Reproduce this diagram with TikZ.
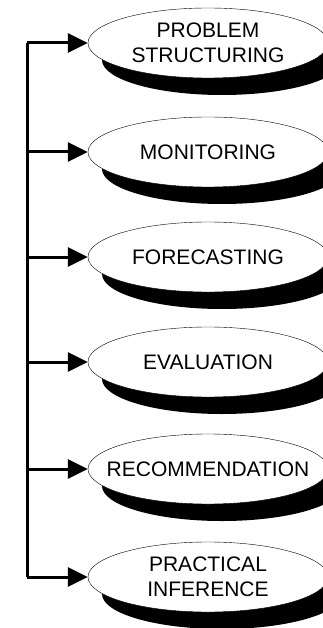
\documentclass[tikz,border=0pt]{standalone}
\usepackage{fontspec}
\setmainfont{Liberation Sans}
\usepackage{tikz}
\usetikzlibrary{arrows.meta,shapes.geometric,shadows}

\begin{document}
\begin{tikzpicture}[x=1pt,y=-1pt]
            \useasboundingbox (0,0) rectangle (323,628);

            \begin{scope}[every node/.style={ellipse,draw=black,thin,fill=white,
                          minimum width=240pt,minimum height=70pt,
                          inner xsep=-40pt,inner ysep=0pt,
                          align=center,font=\fontsize{21}{25}\selectfont,
                          general shadow={fill=black,shadow xshift=14pt,shadow yshift=-17pt}}]
                \node (P) at (208,43) {PROBLEM\\STRUCTURING};
                \node (M) at (208,152) {MONITORING};
                \node (F) at (208,257) {FORECASTING};
                \node (E) at (208,362) {EVALUATION};
                \node (R) at (208,469) {RECOMMENDATION};
                \node (I) at (208,577) {PRACTICAL\\INFERENCE};
            \end{scope}

            \coordinate (P') at (27,43);
            \coordinate (M') at (27,152);
            \coordinate (F') at (27,257);
            \coordinate (E') at (27,362);
            \coordinate (R') at (27,469);
            \coordinate (I') at (27,577);

            \begin{scope}[>={Triangle[length=20pt,width=19pt]},
                          every edge/.style={draw=black,line width=3pt}]
                \draw [line width=3pt] (P') -- (I');
                \path [->] (P') edge (P.west);
                \path [->] (M') edge (M.west);
                \path [->] (F') edge (F.west);
                \path [->] (E') edge (E.west);
                \path [->] (R') edge (R.west);
                \path [->] (I') edge (I.west);
            \end{scope}
        \end{tikzpicture}
\end{document}
